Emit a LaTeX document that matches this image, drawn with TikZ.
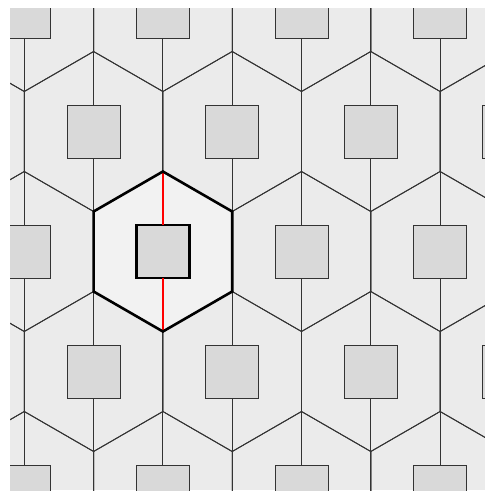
\documentclass[tikz,border=0pt]{standalone}
\begin{document}
\begin{tikzpicture}[x=1pt,y=-1pt,
  thinline/.style={line width=0.9pt, draw=black!80},
  boldline/.style={line width=2.6pt, draw=black, line join=miter},
  redline/.style={line width=2.6pt, draw=red},
  sq/.style={draw=black!80, line width=0.9pt, fill=black!15, minimum size=53pt, inner sep=0pt, outer sep=0pt, shape=rectangle}]
\fill[white] (0,0) rectangle (485,491);
\useasboundingbox (0,0) rectangle (485,491);
\begin{scope}
\clip (10,8) rectangle (485,490);
\fill[black!8] (10,8) rectangle (485,490);
% lighter highlighted hexagon interior
\fill[black!5] (162.9,171.5) -- (232.2,211.5) -- (232.2,291.5) -- (162.9,331.5) -- (93.6,291.5) -- (93.6,211.5) -- cycle;
% hexagon edges
\foreach \r in {0,...,4} {
  \pgfmathsetmacro\cy{11.5+120*\r}
  \pgfmathsetmacro\off{mod(\r,2)==0 ? 24.3 : -45}
  \foreach \j in {0,...,4} {
    \pgfmathsetmacro\cx{\off+138.6*\j}
    \draw[thinline] (\cx,\cy-80) -- (\cx+69.3,\cy-40) -- (\cx+69.3,\cy+40) -- (\cx,\cy+80) -- (\cx-69.3,\cy+40) -- (\cx-69.3,\cy-40) -- cycle;
  }
}
% vertical lines
\foreach \k in {-1,...,7} {
  \draw[thinline] ({24.3+69.3*\k},0) -- ({24.3+69.3*\k},491);
}
% squares
\foreach \r in {0,...,4} {
  \pgfmathsetmacro\cy{11.5+120*\r}
  \pgfmathsetmacro\off{mod(\r,2)==0 ? 24.3 : -45}
  \foreach \j in {0,...,4} {
    \pgfmathsetmacro\cx{\off+138.6*\j}
    \node[sq] (s-\r-\j) at (\cx,\cy) {};
  }
}
\end{scope}
% highlighted cell
\coordinate (ht) at (162.9,171.5);
\coordinate (hr1) at (232.2,211.5);
\coordinate (hr2) at (232.2,291.5);
\coordinate (hb) at (162.9,331.5);
\coordinate (hl2) at (93.6,291.5);
\coordinate (hl1) at (93.6,211.5);
\node[sq, draw=black, line width=2.6pt] (c) at (162.9,251.5) {};
\draw[redline] (ht) -- (c.north);
\draw[redline] (c.south) -- (hb);
\draw[boldline] (ht) -- (hr1) -- (hr2) -- (hb) -- (hl2) -- (hl1) -- cycle;
\end{tikzpicture}
\end{document}
